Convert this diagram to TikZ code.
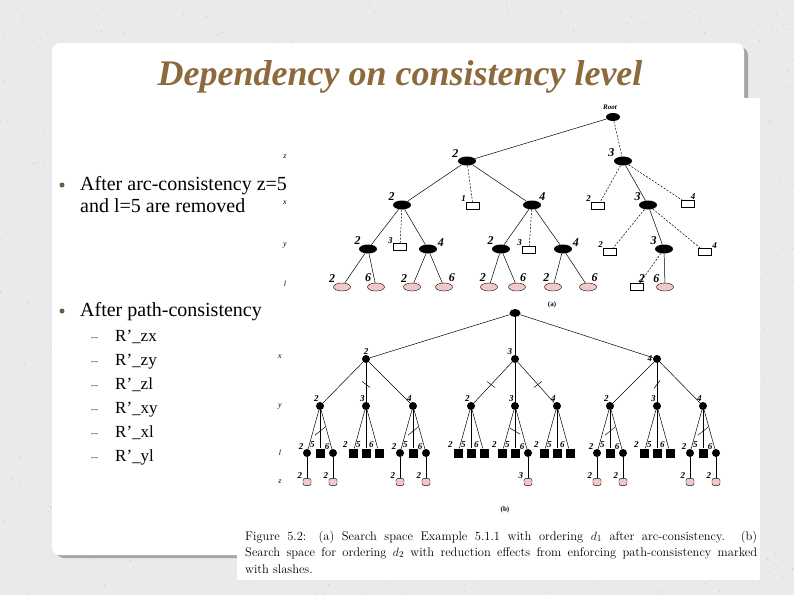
\documentclass[tikz,border=0pt]{standalone}
\usepackage{fontspec}
\setmainfont{Liberation Serif}
\usetikzlibrary{positioning,shapes.geometric}
\definecolor{titlebrown}{HTML}{8C6A3C}
\definecolor{leafpink}{HTML}{F4C8C8}
\definecolor{slidebg}{HTML}{EAEAEA}
\definecolor{dotbrown}{HTML}{6E5C44}
\tikzset{
  fnode/.style={ellipse,fill=black,inner sep=0pt,minimum width=18pt,minimum height=9pt},
  bnode/.style={rectangle,draw=black,fill=white,inner sep=0pt,minimum width=13pt,minimum height=7pt,line width=0.5pt},
  pnode/.style={ellipse,draw=black,fill=leafpink,inner sep=0pt,minimum width=17pt,minimum height=8pt,line width=0.4pt},
  fc/.style={circle,fill=black,inner sep=0pt,minimum size=8pt},
  fs/.style={rectangle,fill=black,inner sep=0pt,minimum size=9pt},
  pz/.style={rectangle,rounded corners=2pt,draw=black,fill=leafpink,inner sep=0pt,minimum width=8pt,minimum height=7pt,line width=0.4pt},
  num/.style={font=\fontsize{12}{12}\selectfont\bfseries\itshape,inner sep=1pt},
  nums/.style={font=\fontsize{9}{9}\selectfont\bfseries\itshape,inner sep=0.5pt},
  lev/.style={font=\fontsize{8}{8}\selectfont\itshape},
  edge/.style={line width=0.5pt},
  dedge/.style={line width=0.5pt,dash pattern=on 2pt off 1.5pt},
  body/.style={font=\fontsize{20}{20}\selectfont,anchor=base west,inner sep=0pt},
}
\begin{document}
\begin{tikzpicture}[x=1pt,y=-1pt]
\useasboundingbox (0,0) rectangle (794,595);
% 背景
\fill[slidebg] (0,0) rectangle (794,595);
\pgfmathsetseed{17}
\foreach \i in {1,...,1400}
  \fill[gray!55] (794*rnd,595*rnd) circle (0.45);
\fill[gray!70,rounded corners=8pt] (56,47) rectangle (748,558);
\fill[white,rounded corners=8pt] (52,43) rectangle (744,555);
\fill[white] (237,98) rectangle (760,580);

\node[font=\fontsize{36}{36}\selectfont\itshape\bfseries,text=titlebrown] (title) at (400,77) {Dependency on consistency level};

% 文字
\fill[dotbrown] (62,185) circle (2.5);
\node[body] (t1) at (80,190) {After arc-consistency z=5};
\node[body] (t2) at (80,212) {and l=5 are removed};
\fill[dotbrown] (62,311) circle (2.5);
\node[body] (t3) at (80,316) {After path-consistency};
\foreach \i/\s in {1/zx,2/zy,3/zl,4/xy,5/xl,6/yl}{
  \node[body,text=dotbrown,font=\fontsize{14}{14}\selectfont] (d\i) at (91,317+24*\i) {--};
  \node[body,font=\fontsize{17}{17}\selectfont] (s\i) at (115,317+24*\i) {R’\_\s};
}

% (a)
\foreach \l/\yy in {z/157,x/203,y/246,l/284}
  \node[lev] (la\l) at (285,\yy) {\l};
\node[font=\fontsize{7}{7}\selectfont\bfseries\itshape] (rlab) at (610,107) {Root};
\node[fnode,minimum width=14pt,minimum height=8pt] (r) at (613,117) {};
\node[fnode,label={[num]160:2}] (z2) at (467,161) {};
\node[fnode,label={[num]160:3}] (z3) at (623,161) {};
\node[fnode,label={[num]150:2}] (x22) at (402,205) {};
\node[bnode,label={[nums]150:1}] (x21) at (473,206) {};
\node[fnode,label={[num]30:4}] (x24) at (532,205) {};
\node[bnode,label={[nums]150:2}] (x32) at (598,206) {};
\node[fnode,label={[num]150:3}] (x33) at (648,205) {};
\node[bnode,label={[nums]60:4}] (x34) at (688,204) {};
\draw[edge] (r) -- (z2);
\draw[dedge] (r) -- (z3);
\draw[edge] (z2) -- (x22);
\draw[dedge] (z2) -- (x21);
\draw[edge] (z2) -- (x24);
\draw[dedge] (z3) -- (x32);
\draw[edge] (z3) -- (x33);
\draw[dedge] (z3) -- (x34);
\node[fnode,label={[num]150:2}] (y222) at (368,249) {};
\node[bnode,label={[nums]160:3}] (y223) at (400,247) {};
\node[fnode,label={[num]10:4}] (y224) at (428,249) {};
\node[fnode,label={[num]150:2}] (y242) at (501,249) {};
\node[bnode,label={[nums]150:3}] (y243) at (529,250) {};
\node[fnode,label={[num]10:4}] (y244) at (563,249) {};
\node[bnode,label={[nums]150:2}] (y332) at (610,252) {};
\node[fnode,label={[num]150:3}] (y333) at (664,249) {};
\node[bnode,label={[nums]20:4}] (y334) at (705,252) {};
\foreach \p/\c in {x22/y222,x22/y224,x24/y242,x24/y244,x33/y333}
  \draw[edge] (\p) -- (\c);
\foreach \p/\c in {x22/y223,x24/y243,x33/y332,x33/y334}
  \draw[dedge] (\p) -- (\c);
\foreach \n/\p/\xx/\v/\ang in {la/y222/342/2/150,lb/y222/376/6/135,lc/y224/412/2/135,ld/y224/444/6/45,le/y242/489/2/115,lf/y242/517/6/65,lg/y244/553/2/120,lh/y244/588/6/60}{
  \node[pnode,label={[num]\ang:\v}] (\n) at (\xx,287) {};
  \draw[edge] (\p) -- (\n);
}
\node[bnode,label={[num]80:2}] (li) at (637,287) {};
\node[pnode,label={[num]140:6}] (lj) at (665,287) {};
\draw[dedge] (y333) -- (li);
\draw[edge] (y333) -- (lj);
\node[font=\fontsize{7}{7}\selectfont\bfseries] (capa) at (552,305) {(a)};

% (b)
\foreach \l/\yy in {x/357,y/407,l/453,z/482}
  \node[lev] (lb\l) at (280,\yy) {\l};
\node[fnode,minimum width=11pt,minimum height=8pt] (rb) at (515,313) {};
\node[fc,label={[nums]90:2}] (bx2) at (366,359) {};
\node[fc,label={[nums]120:3}] (bx3) at (515,359) {};
\node[fc,label={[nums]180:4}] (bx4) at (657,359) {};
\foreach \c in {bx2,bx3,bx4}
  \draw[edge] (rb) -- (\c);
\foreach \i/\p/\xx/\v in {1/bx2/320/2,2/bx2/366/3,3/bx2/413/4,4/bx3/471/2,5/bx3/515/3,6/bx3/557/4,7/bx4/610/2,8/bx4/657/3,9/bx4/703/4}{
  \node[fc,label={[nums]100:\v}] (by\i) at (\xx,406) {};
  \draw[edge] (\p) -- (by\i);
}
\foreach \i/\xx/\sa/\sc in {1/320/fc/fc,2/366/fs/fs,3/413/fc/fc,4/471/fs/fs,5/515/fs/fc,6/557/fs/fs,7/610/fc/fc,8/657/fs/fs,9/703/fc/fc}{
  \node[\sa,label={[nums]135:2}] (bl\i-2) at (\xx-13,453) {};
  \node[fs,label={[nums]135:5}] (bl\i-5) at (\xx,453) {};
  \node[\sc,label={[nums]135:6}] (bl\i-6) at (\xx+13,453) {};
  \foreach \k in {2,5,6}
    \draw[edge] (by\i) -- (bl\i-\k);
}
% slashes
\foreach \a/\b/\dx/\dy in {bx2/by2/-4/-3,bx3/by4/-4/-3,bx3/by6/-4/3,bx4/by8/-3/4,by1/bl1-5/-5/4,by3/bl3-5/-5/4,by5/bl5-5/-5/-3,by7/bl7-5/-5/4,by9/bl9-5/-5/4}{
  \path (\a) -- (\b) coordinate[pos=0.55] (sl);
  \draw[edge] (sl) ++(\dx,\dy) -- ++(-2*\dx,-2*\dy);
}
\foreach \n/\v in {bl1-2/2,bl1-6/2,bl3-2/2,bl3-6/2,bl5-6/3,bl7-2/2,bl7-6/2,bl9-2/2,bl9-6/2}{
  \node[pz,label={[nums]150:\v},below=21pt of \n] (z\n) {};
  \draw[edge] (\n) -- (z\n);
}
\node[font=\fontsize{7}{7}\selectfont\bfseries] (capb) at (505,510) {(b)};

% caption
\node[anchor=west,inner sep=0pt,font=\fontfamily{lmr}\fontsize{12.5}{13}\selectfont] (c1) at (245,537)
  {\makebox[512pt][s]{Figure 5.2: (a) Search space Example 5.1.1 with ordering $d_1$ after arc-consistency. (b)}};
\node[anchor=west,inner sep=0pt,font=\fontfamily{lmr}\fontsize{12.5}{13}\selectfont] (c2) at (245,553)
  {\makebox[512pt][s]{Search space for ordering $d_2$ with reduction effects from enforcing path-consistency marked}};
\node[anchor=west,inner sep=0pt,font=\fontfamily{lmr}\fontsize{12.5}{13}\selectfont] (c3) at (245,569)
  {with slashes.};
\end{tikzpicture}
\end{document}
